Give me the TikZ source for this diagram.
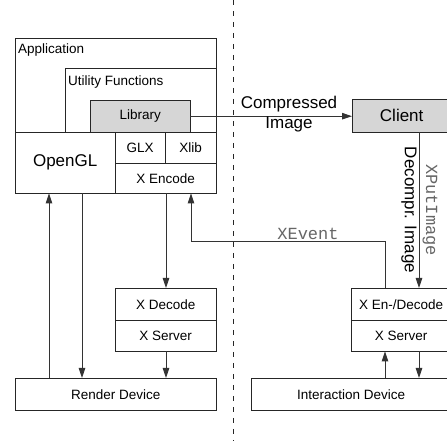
\documentclass[tikz,border=0pt]{standalone}
\usepackage{fontspec}
\setmainfont{Liberation Sans}
\newfontfamily\codefont{Liberation Mono}
\usetikzlibrary{arrows.meta,calc}
\begin{document}
\begin{tikzpicture}[x=1pt,y=1pt,
  box/.style={rectangle, inner sep=0pt, anchor=north west,
    font=\fontsize{13.5}{16}\selectfont},
  frame/.style={draw=black!85, line width=0.9pt},
  shade/.style={fill=black!16},
  plain/.style={inner sep=0pt, font=\fontsize{13.5}{16}\selectfont},
  conn/.style={draw=black!80, line width=0.9pt},
  tip/.style={-{Triangle[length=10pt,width=6.5pt]}},
  big/.style={font=\fontsize{17}{20}\selectfont},
  code/.style={font=\codefont\fontsize{17}{20}\selectfont, text=black!60},
]
\useasboundingbox (0,0) rectangle (447,441);

% shaded backgrounds of Library and Client
\fill[shade] (90,341) rectangle (190,309);
\fill[shade] (352,342) rectangle (451,309);

% host / client separation
\coordinate (sepTop) at (233,441);
\coordinate (sepBot) at (233,0);
\draw[black!85, line width=0.9pt, dash pattern=on 5.5pt off 5.5pt] (sepTop) -- (sepBot);

% rendering host: application stack
\node[box, minimum width=201pt, minimum height=94pt] (app) at (15,403) {};
\node[plain, anchor=base west] (appText) at (18,387) {Application};
\node[box, minimum width=151pt, minimum height=64pt] (util) at (65,373) {};
\node[plain, anchor=base west] (utilText) at (68,355) {Utility Functions};
\node[box, minimum width=100pt, minimum height=32pt] (lib) at (90,341) {Library};

\node[box, big, minimum width=100pt, minimum height=61pt] (ogl) at (15,309) {OpenGL};
\node[box, minimum width=50pt, minimum height=31pt] (glx) at (115,309) {GLX};
\node[box, minimum width=51pt, minimum height=31pt] (xlib) at (165,309) {Xlib};
\node[box, minimum width=101pt, minimum height=30pt] (xenc) at (115,278) {X Encode};

\node[box, minimum width=101pt, minimum height=32pt] (xdec) at (115,153) {X Decode};
\node[box, minimum width=101pt, minimum height=31pt] (xsrvL) at (115,121) {X Server};
\node[box, minimum width=201pt, minimum height=32pt] (render) at (15,63) {Render Device};

% viewing side
\node[box, big, minimum width=99pt, minimum height=33pt] (client) at (352,342) {Client};
\node[box, minimum width=100pt, minimum height=32pt] (xende) at (351,153) {X En-/Decode};
\node[box, minimum width=100pt, minimum height=31pt] (xsrvR) at (351,121) {X Server};
\node[box, minimum width=200pt, minimum height=32pt] (interact) at (251,63) {Interaction Device};

% box outlines
\foreach \b in {app,util,lib,ogl,glx,xlib,xenc,xdec,xsrvL,render,client,xende,xsrvR,interact}
  \draw[frame] (\b.north west) rectangle (\b.south east);

% connectors on the rendering host
\draw[conn, tip] ([xshift=34pt]render.north west) -- ([xshift=34pt]ogl.south west);
\draw[conn, tip] ([xshift=67pt]ogl.south west) -- ([xshift=67pt]render.north west);
\draw[conn, tip] ([xshift=51pt]xenc.south west) -- ([xshift=51pt]xdec.north west);
\draw[conn, tip] ([xshift=51pt]xsrvL.south west) -- ([xshift=151pt]render.north west);

% compressed image to the client
\draw[conn, tip] (lib.east) -- (lib.east -| client.west);
\node[big, align=center, inner sep=0pt] (compr) at (289,327) {Compressed\\Image};

% client to the X server on the viewing side
\draw[conn, tip] ([xshift=67pt]client.south west) -- ([xshift=68pt]xende.north west);
\node[big, inner sep=0pt] (decomp) at (409,231) {\rotatebox{-90}{Decompr. Image}};
\node[code, inner sep=0pt] (xput) at (430,231) {\rotatebox{-90}{XPutImage}};

% events travel back to the host
\draw[conn, tip] ([xshift=34pt]xende.north west) -- ++(0,47) -| ([xshift=76pt]xenc.south west);
\node[code, anchor=south, inner sep=1.5pt] (xevent) at (308,200) {XEvent};

% interaction device and X server
\draw[conn, tip] ([xshift=134pt]interact.north west) -- ([xshift=34pt]xsrvR.south west);
\draw[conn, tip] ([xshift=68pt]xsrvR.south west) -- ([xshift=168pt]interact.north west);
\end{tikzpicture}
\end{document}
